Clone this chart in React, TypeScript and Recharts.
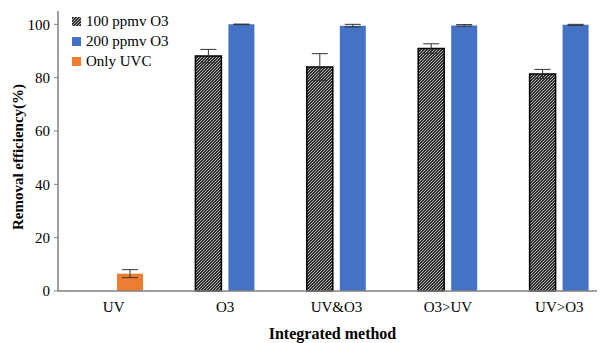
import React from 'react';
import { BarChart, Bar, XAxis, YAxis, ErrorBar, Cell, Legend, Label } from 'recharts';

const categories = ['UV', 'O3', 'UV&O3', 'O3>UV', 'UV>O3'];
const ppmv100 = [null, 88.1, 84.0, 90.9, 81.4];
const ppmv100Err = [null, 2.5, 5.0, 1.8, 1.7];
const ppmv200 = [null, 100, 99.5, 99.6, 99.8];
const ppmv200Err = [null, 0.1, 0.5, 0.3, 0.2];
const onlyUvc = [6.5, null, null, null, null];
const onlyUvcErr = [1.5, null, null, null, null];
const yTicks = [0, 20, 40, 60, 80, 100];

const BLUE = '#4472C4';
const ORANGE = '#ED7D31';
const FONT = "'Liberation Serif', 'Times New Roman', serif";

const data = categories.map((c, i) => ({
  name: c,
  a: ppmv100[i],
  aErr: ppmv100Err[i],
  b: ppmv200[i] ?? onlyUvc[i],
  bErr: ppmv200Err[i] ?? onlyUvcErr[i],
  uvc: onlyUvc[i] != null,
}));

const legendItems = [
  { label: '100 ppmv O3', kind: 'hatch' },
  { label: '200 ppmv O3', kind: BLUE },
  { label: 'Only UVC', kind: ORANGE },
];

const HatchDefs = ({ id }: { id: string }) => (
  <pattern id={id} patternUnits="userSpaceOnUse" width="3" height="3">
    <rect width="3" height="3" fill="#2e2e2e" />
    <path d="M-0.75,0.75 l1.5,-1.5 M0,3 l3,-3 M2.25,3.75 l1.5,-1.5" stroke="#d8d8d8" strokeWidth="0.8" />
  </pattern>
);

const LegendContent = () => (
  <div style={{ fontFamily: FONT, fontSize: 15, color: '#000' }}>
    {legendItems.map((it) => (
      <div key={it.label} style={{ display: 'flex', alignItems: 'center', height: 20, lineHeight: '20px', fontFamily: FONT }}>
        <svg width="9" height="9" style={{ marginRight: 5 }}>
          <defs>
            <HatchDefs id="hatchLegend" />
          </defs>
          <rect x="0" y="0" width="9" height="9" fill={it.kind === 'hatch' ? 'url(#hatchLegend)' : it.kind} />
        </svg>
        <span style={{ fontFamily: FONT, fontSize: 15 }}>{it.label}</span>
      </div>
    ))}
  </div>
);

export default function App() {
  return (
    <div style={{ width: 597, height: 335, overflow: 'hidden', fontFamily: FONT }}>
      <BarChart
        width={607}
        height={335}
        data={data}
        margin={{ top: 3, right: 0, bottom: 0, left: 0 }}
        barSize={26}
        barGap={7}
      >
        <defs>
          <HatchDefs id="hatchBar" />
        </defs>
        <XAxis
          dataKey="name"
          height={52}
          tickLine={false}
          tickMargin={4}
          axisLine={{ stroke: '#808080', strokeWidth: 1.5 }}
          tick={{ fill: '#000', fontSize: 15, fontFamily: FONT }}
          interval={0}
        >
          <Label
            value="Integrated method"
            position="insideBottom"
            offset={4}
            dx={-4}
            style={{ fontFamily: FONT, fontSize: 16, fontWeight: 'bold', fill: '#000' }}
          />
        </XAxis>
        <YAxis
          width={50}
          domain={[0, 105]}
          ticks={yTicks}
          tickSize={4}
          tickMargin={4}
          tickLine={{ stroke: '#808080' }}
          axisLine={{ stroke: '#808080', strokeWidth: 1.5 }}
          tick={{ fill: '#000', fontSize: 15, fontFamily: FONT }}
        >
          <Label
            content={() => (
              <text
                transform="translate(10,149) rotate(-90)"
                textAnchor="middle"
                dominantBaseline="central"
                style={{ fontFamily: FONT, fontSize: 15, fontWeight: 'bold', fill: '#000' }}
              >
                Removal efficiency(%)
              </text>
            )}
          />
        </YAxis>
        <Legend
          layout="vertical"
          align="center"
          verticalAlign="middle"
          content={<LegendContent />}
          wrapperStyle={{ left: 64, top: 3, width: 150, height: 62, fontFamily: FONT }}
        />
        <Bar dataKey="a" fill="url(#hatchBar)" stroke="#000" strokeWidth={1.5} isAnimationActive={false}>
          <ErrorBar dataKey="aErr" width={8} stroke="#333" strokeWidth={1} />
        </Bar>
        <Bar dataKey="b" fill={BLUE} isAnimationActive={false}>
          {data.map((d) => (
            <Cell key={d.name} fill={d.uvc ? ORANGE : BLUE} />
          ))}
          <ErrorBar dataKey="bErr" width={8} stroke="#333" strokeWidth={1} />
        </Bar>
      </BarChart>
    </div>
  );
}
